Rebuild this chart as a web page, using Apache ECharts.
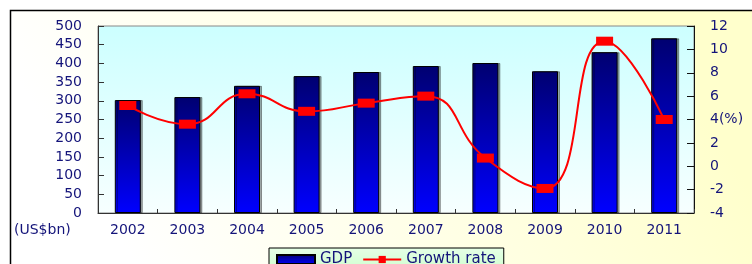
<!DOCTYPE html>
<html>
<head>
<meta charset="utf-8">
<title>GDP and growth rate</title>
<script src="https://cdn.jsdelivr.net/npm/echarts@6/dist/echarts.min.js"></script>
<style>
	html, body { margin: 0; padding: 0; background: #fff; }
	#chart { width: 752px; height: 264px; }
</style>
</head>
<body>
<div id="chart"></div>
<script>
// 数据
var years = ['2002', '2003', '2004', '2005', '2006', '2007', '2008', '2009', '2010', '2011'];
var gdpValues = [302, 310, 340, 366, 377, 393, 401, 379, 430, 467];
var growthValues = [5.2, 3.6, 6.2, 4.7, 5.4, 6.0, 0.7, -1.9, 10.7, 4.0];
var seriesNames = ['GDP', 'Growth rate'];

var navy = '#14147a';
var font = 'DejaVu Sans';

var chart = echarts.init(document.getElementById('chart'));

var option = {
	backgroundColor: '#fff',
	animation: false,
	// 外框
	graphic: [{
		type: 'rect',
		z: -10,
		shape: { x: 10.5, y: 10.5, width: 780, height: 300 },
		style: {
			fill: new echarts.graphic.LinearGradient(0.2, 1, 0.8, 0, [
				{ offset: 0, color: '#ffffff' },
				{ offset: 1, color: '#ffffcc' }
			]),
			stroke: '#000',
			lineWidth: 1.5
		}
	}, {
		type: 'text',
		left: 14,
		top: 223,
		style: {
			text: '(US$bn)',
			fill: navy,
			font: '14px "DejaVu Sans"'
		}
	}],
	grid: {
		left: 98,
		right: 58,
		top: 26,
		bottom: 51,
		show: true,
		borderColor: '#888',
		borderWidth: 1,
		backgroundColor: new echarts.graphic.LinearGradient(0, 0, 0, 1, [
			{ offset: 0, color: '#ccffff' },
			{ offset: 1, color: '#f7ffff' }
		])
	},
	legend: {
		left: 269,
		top: 248,
		padding: [4, 8, 6, 7],
		itemWidth: 38,
		itemHeight: 9,
		itemGap: 10,
		borderColor: '#000',
		borderWidth: 1,
		backgroundColor: new echarts.graphic.LinearGradient(0, 0, 0, 1, [
			{ offset: 0, color: '#e6ffe6' },
			{ offset: 1, color: '#ccffcc' }
		]),
		textStyle: { color: navy, fontFamily: font, fontSize: 15 },
		data: [
			{ name: seriesNames[0], icon: 'rect' },
			{ name: seriesNames[1] }
		]
	},
	xAxis: {
		type: 'category',
		data: years,
		axisLine: { lineStyle: { color: '#333', width: 1 } },
		axisTick: { show: true, inside: true, length: 4, lineStyle: { color: '#333' } },
		axisLabel: { color: navy, fontFamily: font, fontSize: 14, margin: 10 }
	},
	yAxis: [{
		type: 'value',
		min: 0,
		max: 500,
		interval: 50,
		splitLine: { show: false },
		axisLine: { show: true, lineStyle: { color: '#333' } },
		axisTick: { show: true, inside: true, length: 6, lineStyle: { color: '#333' } },
		axisLabel: { color: navy, fontFamily: font, fontSize: 14, margin: 16 }
	}, {
		type: 'value',
		min: -4,
		max: 12,
		interval: 2,
		splitLine: { show: false },
		axisLine: { show: true, lineStyle: { color: '#111' } },
		axisTick: { show: true, inside: true, length: 7, lineStyle: { color: '#111' } },
		axisLabel: {
			color: navy,
			fontFamily: font,
			fontSize: 14,
			margin: 16,
			formatter: function(v) {
				return v === 4 ? '4(%)' : String(v);
			}
		}
	}],
	series: [{
		name: seriesNames[0],
		type: 'bar',
		yAxisIndex: 0,
		barWidth: 26,
		data: gdpValues,
		itemStyle: {
			color: new echarts.graphic.LinearGradient(0, 0, 0, 1, [
				{ offset: 0, color: '#000070' },
				{ offset: 1, color: '#0000ff' }
			]),
			borderColor: '#000',
			borderWidth: 1,
			shadowColor: 'rgba(0,0,0,0.35)',
			shadowOffsetX: 2,
			shadowBlur: 0
		}
	}, {
		name: seriesNames[1],
		type: 'line',
		yAxisIndex: 1,
		smooth: 0.5,
		data: growthValues,
		symbol: 'rect',
		symbolSize: [17, 9],
		lineStyle: { color: '#ff0000', width: 2 },
		itemStyle: { color: '#ff0000' }
	}]
};

chart.setOption(option);
</script>
</body>
</html>
